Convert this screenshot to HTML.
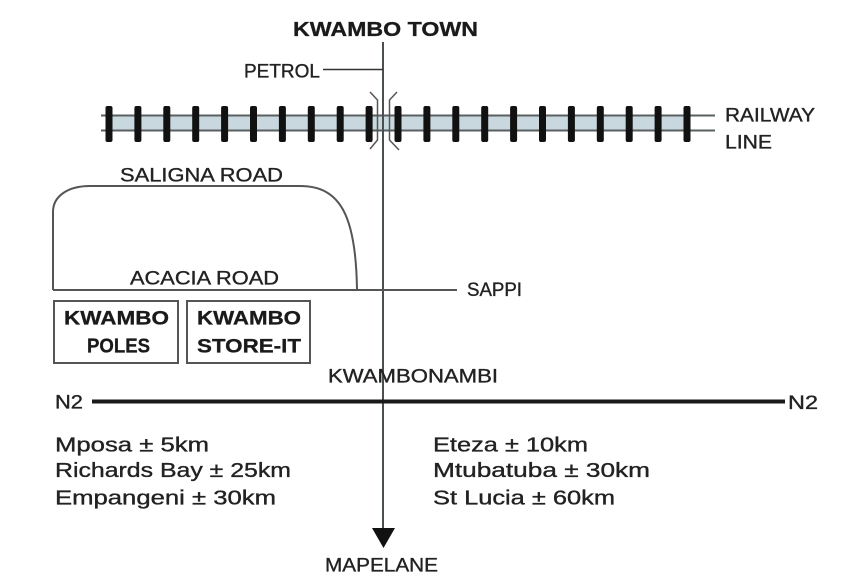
<!DOCTYPE html>
<html>
<head>
<meta charset="utf-8">
<style>
  html,body{margin:0;padding:0;background:#fff;}
  svg{display:block;}
  text{font-family:"Liberation Sans",sans-serif;fill:#222;stroke:#222;stroke-width:0.35;}
  .b{font-weight:bold;fill:#1a1a1a;stroke:#1a1a1a;stroke-width:0.3;}
</style>
</head>
<body>
<svg width="842" height="584" viewBox="0 0 842 584" xmlns="http://www.w3.org/2000/svg">
  <rect width="842" height="584" fill="#fff"/>

  <!-- Railway fill and rails -->
  <rect x="109" y="115" width="580" height="15" fill="#c9d8df"/>
  <line x1="101" y1="115.5" x2="715" y2="115.5" stroke="#5a5f62" stroke-width="2"/>
  <line x1="101" y1="130.5" x2="715" y2="130.5" stroke="#5a5f62" stroke-width="2"/>
  <!-- ties -->
  <g fill="#111">
    <rect x="105.5" y="106" width="7" height="36" rx="2"/>
    <rect x="134.4" y="106" width="7" height="36" rx="2"/>
    <rect x="163.3" y="106" width="7" height="36" rx="2"/>
    <rect x="192.2" y="106" width="7" height="36" rx="2"/>
    <rect x="221.1" y="106" width="7" height="36" rx="2"/>
    <rect x="250" y="106" width="7" height="36" rx="2"/>
    <rect x="278.9" y="106" width="7" height="36" rx="2"/>
    <rect x="307.8" y="106" width="7" height="36" rx="2"/>
    <rect x="336.7" y="106" width="7" height="36" rx="2"/>
    <rect x="365.6" y="106" width="7" height="36" rx="2"/>
    <rect x="394.5" y="106" width="7" height="36" rx="2"/>
    <rect x="423.4" y="106" width="7" height="36" rx="2"/>
    <rect x="452.3" y="106" width="7" height="36" rx="2"/>
    <rect x="481.2" y="106" width="7" height="36" rx="2"/>
    <rect x="510.1" y="106" width="7" height="36" rx="2"/>
    <rect x="539" y="106" width="7" height="36" rx="2"/>
    <rect x="567.9" y="106" width="7" height="36" rx="2"/>
    <rect x="596.8" y="106" width="7" height="36" rx="2"/>
    <rect x="625.7" y="106" width="7" height="36" rx="2"/>
    <rect x="654.6" y="106" width="7" height="36" rx="2"/>
    <rect x="683.5" y="106" width="7" height="36" rx="2"/>
  </g>

  <!-- bridge brackets -->
  <g fill="none" stroke="#555" stroke-width="1.5">
    <polyline points="370,92 377.5,100 377.5,140 370,149"/>
    <polyline points="397,92 389.5,100 389.5,140 399,150"/>
  </g>

  <!-- main vertical road -->
  <line x1="383" y1="42" x2="383" y2="530" stroke="#4a4f52" stroke-width="2"/>
  <polygon points="372,528 395,528 383.5,548" fill="#111"/>

  <!-- petrol line -->
  <line x1="323" y1="69.5" x2="383" y2="69.5" stroke="#333" stroke-width="1.5"/>

  <!-- Saligna road -->
  <path d="M53,290 L53,212 C53,196 68,186 90,186 L300,186 C340,186 356,215 357,290" fill="none" stroke="#555" stroke-width="2"/>
  <!-- Acacia road / Sappi line -->
  <line x1="53" y1="290" x2="457" y2="290" stroke="#555" stroke-width="2"/>

  <!-- boxes -->
  <rect x="54" y="301" width="124" height="62" fill="none" stroke="#555" stroke-width="2"/>
  <rect x="187" y="301" width="123" height="62" fill="none" stroke="#555" stroke-width="2"/>

  <!-- N2 -->
  <line x1="92" y1="401.5" x2="785" y2="401.5" stroke="#1a1a1a" stroke-width="4"/>

  <!-- Texts -->
  <text class="b" x="293" y="36" font-size="20" textLength="185" lengthAdjust="spacingAndGlyphs">KWAMBO TOWN</text>
  <text x="244" y="77.5" font-size="19" textLength="76" lengthAdjust="spacingAndGlyphs">PETROL</text>
  <text x="725" y="121.5" font-size="19" textLength="90" lengthAdjust="spacingAndGlyphs">RAILWAY</text>
  <text x="725" y="148.3" font-size="19" textLength="47" lengthAdjust="spacingAndGlyphs">LINE</text>
  <text x="120" y="181.5" font-size="19" textLength="163" lengthAdjust="spacingAndGlyphs">SALIGNA ROAD</text>
  <text x="130" y="284.3" font-size="19" textLength="149" lengthAdjust="spacingAndGlyphs">ACACIA ROAD</text>
  <text x="467" y="296" font-size="19" textLength="55" lengthAdjust="spacingAndGlyphs">SAPPI</text>

  <text class="b" x="64" y="324.3" font-size="19" textLength="105" lengthAdjust="spacingAndGlyphs">KWAMBO</text>
  <text class="b" x="87" y="352.3" font-size="20" textLength="63" lengthAdjust="spacingAndGlyphs">POLES</text>
  <text class="b" x="197" y="324.3" font-size="19" textLength="104" lengthAdjust="spacingAndGlyphs">KWAMBO</text>
  <text class="b" x="197" y="352.3" font-size="19" textLength="104" lengthAdjust="spacingAndGlyphs">STORE-IT</text>

  <text x="328" y="382.7" font-size="19" textLength="170" lengthAdjust="spacingAndGlyphs">KWAMBONAMBI</text>
  <text x="55" y="408.5" font-size="19" textLength="28" lengthAdjust="spacingAndGlyphs">N2</text>
  <text x="788" y="409" font-size="19" textLength="30" lengthAdjust="spacingAndGlyphs">N2</text>

  <text x="55" y="451.7" font-size="20" textLength="154" lengthAdjust="spacingAndGlyphs">Mposa ± 5km</text>
  <text x="55" y="477" font-size="20" textLength="236" lengthAdjust="spacingAndGlyphs">Richards Bay ± 25km</text>
  <text x="55" y="504.3" font-size="20" textLength="221" lengthAdjust="spacingAndGlyphs">Empangeni ± 30km</text>

  <text x="433" y="451.7" font-size="20" textLength="155" lengthAdjust="spacingAndGlyphs">Eteza ± 10km</text>
  <text x="433" y="477" font-size="20" textLength="217" lengthAdjust="spacingAndGlyphs">Mtubatuba ± 30km</text>
  <text x="433" y="504.3" font-size="20" textLength="182" lengthAdjust="spacingAndGlyphs">St Lucia ± 60km</text>

  <text x="325" y="571.7" font-size="19" textLength="113" lengthAdjust="spacingAndGlyphs">MAPELANE</text>
</svg>
</body>
</html>
